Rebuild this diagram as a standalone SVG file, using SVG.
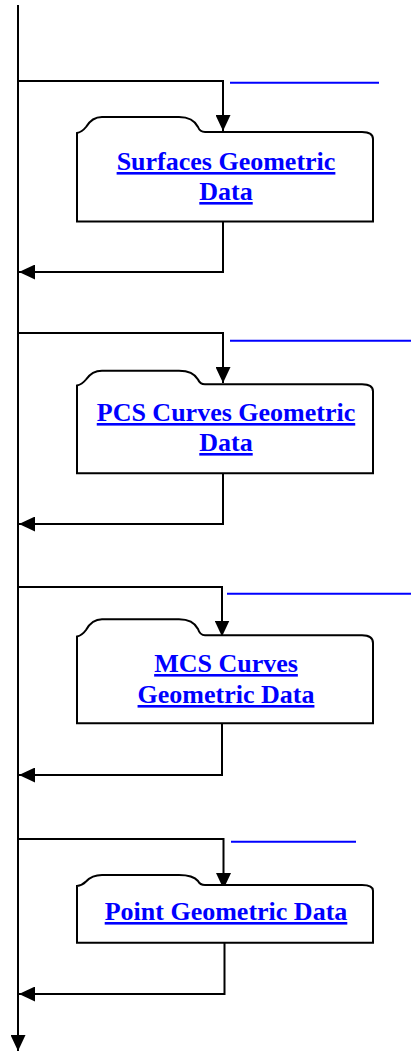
<svg xmlns="http://www.w3.org/2000/svg" width="411" height="1052" viewBox="0 0 411 1052">
<style>
.box{fill:#fff;stroke:#000;stroke-width:2}
.conn{fill:none;stroke:#000;stroke-width:2}
.main{fill:none;stroke:#000;stroke-width:2}
.lnk{fill:none;stroke:#0000ff;stroke-width:2}
.lbl{font-family:"Liberation Serif","Times New Roman",serif;font-weight:bold;font-size:26px;fill:#0000ff;text-anchor:middle;text-decoration:underline}
</style>
<defs>
<marker id="ah" viewBox="0 0 16 15" refX="16" refY="7.5" markerWidth="16" markerHeight="15" markerUnits="userSpaceOnUse" orient="auto">
<path d="M0,0 L16,7.5 L0,15 Z" fill="#000"/>
</marker>
</defs>
<g id="connectors">
<path class="main" d="M18,5 V1051" marker-end="url(#ah)"/>
<path class="conn" d="M18,81 H223 V131" marker-end="url(#ah)"/>
<path class="conn" d="M223,222 V272 H19" marker-end="url(#ah)"/>
<path class="conn" d="M18,333 H223 V383" marker-end="url(#ah)"/>
<path class="conn" d="M223,473 V524 H19" marker-end="url(#ah)"/>
<path class="conn" d="M18,587 H222 V636.5" marker-end="url(#ah)"/>
<path class="conn" d="M222,723 V775 H19" marker-end="url(#ah)"/>
<path class="conn" d="M18,839 H223.5 V889" marker-end="url(#ah)"/>
<path class="conn" d="M224.5,943 V994 H19" marker-end="url(#ah)"/>
</g>
<g id="links">
<line class="lnk" x1="230" y1="82.7" x2="379" y2="82.7"/>
<line class="lnk" x1="230" y1="340.7" x2="411" y2="340.7"/>
<line class="lnk" x1="227" y1="593.7" x2="411" y2="593.7"/>
<line class="lnk" x1="231" y1="841.7" x2="356" y2="841.7"/>
</g>
<g id="node1">
<path class="box" d="M77,133 Q82,132 86,127 Q92,117 102,117 L179,117 Q193,117 198,127 Q200,132 205,132 L362,132 Q373,132 373,139 L373,221.5 L77,221.5 Z"/>
<text class="lbl" x="226" y="170">Surfaces Geometric</text>
<text class="lbl" x="226" y="200">Data</text>
</g>
<g id="node2">
<path class="box" d="M77,385.5 Q82,384.5 86,379.5 Q92,370.7 102,370.7 L179,370.7 Q193,370.7 198,379.5 Q200,384.3 205,384.3 L362,384.3 Q373,384.3 373,391.5 L373,473.3 L77,473.3 Z"/>
<text class="lbl" x="226" y="421">PCS Curves Geometric</text>
<text class="lbl" x="226" y="451">Data</text>
</g>
<g id="node3">
<path class="box" d="M77,636.5 Q82,635.5 86,630 Q92,619.3 102,619.3 L179,619.3 Q193,619.3 198,629 Q200,635.3 205,635.3 L362,635.3 Q373,635.3 373,643 L373,723.3 L77,723.3 Z"/>
<text class="lbl" x="226" y="672">MCS Curves</text>
<text class="lbl" x="226" y="703">Geometric Data</text>
</g>
<g id="node4">
<path class="box" d="M77,886 Q82,885.5 86,881.5 Q92,875 102,875 L179,875 Q193,875 198,881 Q200,885 205,885 L362,885 Q373,885 373,890.7 L373,942.7 L77,942.7 Z"/>
<text class="lbl" x="226" y="920">Point Geometric Data</text>
</g>
</svg>
